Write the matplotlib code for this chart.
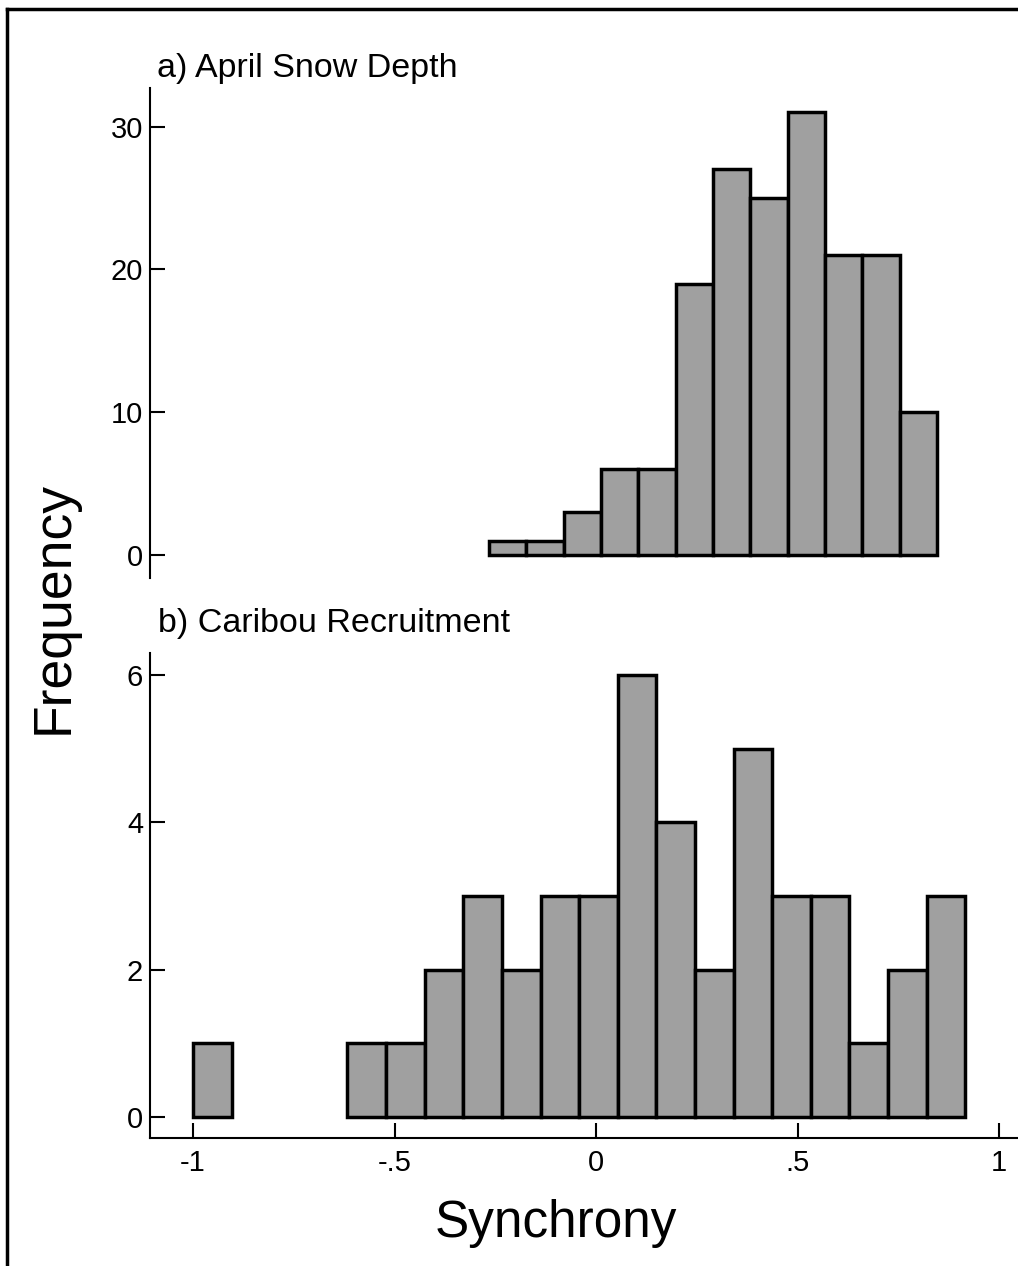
import numpy as np
import matplotlib
matplotlib.use("Agg")
import matplotlib.pyplot as plt
from matplotlib.lines import Line2D

plt.rcParams['font.family'] = ['Liberation Sans', 'DejaVu Sans']

# histogram counts, bins of equal width
snow_counts = [1, 1, 3, 6, 6, 19, 27, 25, 31, 21, 21, 10]
snow_start = -0.266
snow_width = 0.0927

caribou_counts = [1, 0, 0, 0, 1, 1, 2, 3, 2, 3, 3, 6, 4, 2, 5, 3, 3, 1, 2, 3]
caribou_start = -1.0
caribou_width = 0.0958

x_ticks = [-1, -0.5, 0, 0.5, 1]
x_labels = ['-1', '-.5', '0', '.5', '1']
snow_yticks = [0, 10, 20, 30]
caribou_yticks = [0, 2, 4, 6]

bar_color = '#a0a0a0'

fig = plt.figure(figsize=(10.18, 12.66), dpi=100)
ax_a = fig.add_axes([0.1473, 0.5434, 0.8527, 0.3871])
ax_b = fig.add_axes([0.1473, 0.1011, 0.8527, 0.3831])

def draw_hist(ax, start, width, counts):
    lefts = start + width * np.arange(len(counts))
    counts = np.array(counts)
    keep = counts > 0
    ax.bar(lefts[keep], counts[keep], width=width, align='edge',
           color=bar_color, edgecolor='black', linewidth=2.5)

draw_hist(ax_a, snow_start, snow_width, snow_counts)
draw_hist(ax_b, caribou_start, caribou_width, caribou_counts)

for ax in (ax_a, ax_b):
    ax.set_xlim(-1.107, 1.047)
    ax.spines['top'].set_visible(False)
    ax.spines['right'].set_visible(False)
    ax.spines['left'].set_linewidth(1.5)
    ax.spines['bottom'].set_linewidth(1.5)
    ax.tick_params(direction='in', length=11, width=1.5, labelsize=21, pad=5)

ax_a.set_ylim(-1.6, 32.7)
ax_a.set_yticks(snow_yticks)
ax_a.spines['bottom'].set_visible(False)
ax_a.set_xticks([])

ax_b.set_ylim(-0.285, 6.3)
ax_b.set_yticks(caribou_yticks)
ax_b.set_xticks(x_ticks)
ax_b.set_xticklabels(x_labels)
ax_b.tick_params(axis='x', pad=8)

fig.text(157 / 1018, 1 - 77 / 1266, 'a) April Snow Depth', fontsize=24.5,
         ha='left', va='baseline')
fig.text(158 / 1018, 1 - 632 / 1266, 'b) Caribou Recruitment', fontsize=24.5,
         ha='left', va='baseline')
fig.text(54 / 1018, 1 - 608 / 1266, 'Frequency', fontsize=38.5, rotation=90,
         ha='center', va='center')
fig.text(556 / 1018, 1 - 1237 / 1266, 'Synchrony', fontsize=37,
         ha='center', va='baseline')

# frame along the top and left edges
fig.add_artist(Line2D([0.007, 1.0], [0.9929, 0.9929], color='black', lw=2.5,
                      transform=fig.transFigure))
fig.add_artist(Line2D([0.007, 0.007], [0.0, 0.9929], color='black', lw=2.5,
                      transform=fig.transFigure))

fig.savefig('out.png', dpi=100)
